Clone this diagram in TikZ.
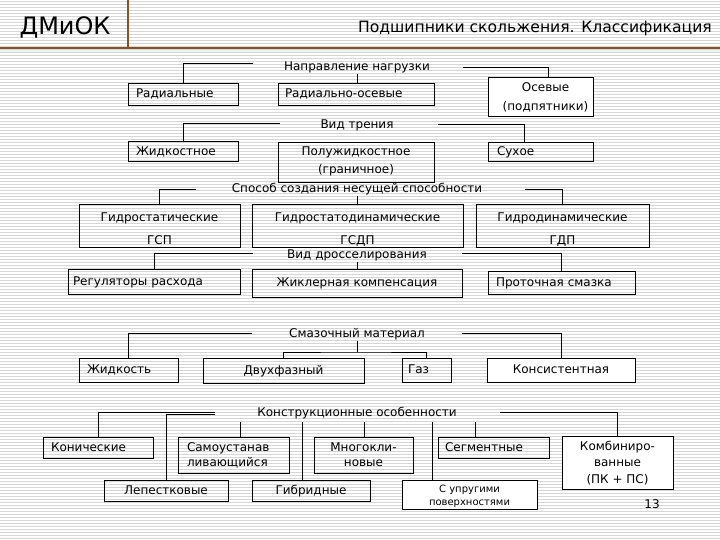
\documentclass[tikz,border=0pt]{standalone}
\usepackage{fontspec}
\setmainfont{DejaVu Sans}
\usetikzlibrary{calc}
\definecolor{hdrbrown}{RGB}{140,80,35}
\definecolor{stripe}{RGB}{214,214,214}
\definecolor{hdrcyan}{RGB}{225,248,250}
\newcommand{\sttop}[1]{\rule{0pt}{#1}}
\newcommand{\stbot}[1]{\rule[-#1]{0pt}{#1}}
\newcommand{\oneln}[1]{\sttop{10.5pt}\stbot{3.2pt}#1}
\tikzset{
 bx/.style={draw, line width=0.9pt, inner sep=0pt, font=\fontsize{12}{15}\selectfont, align=center},
 wbx/.style={bx, fill=white},
 lbl/.style={inner sep=1pt, font=\fontsize{12}{15}\selectfont},
 cn/.style={line width=0.9pt},
}
\begin{document}
\begin{tikzpicture}[x=1pt,y=-1pt]
\useasboundingbox (0,0) rectangle (720,540);
\fill[white] (0,0) rectangle (720,540);
\foreach \i in {0,...,179} \draw[stripe, line width=1pt] (0,{3*\i+1.5}) -- (720,{3*\i+1.5});
% header
\node[inner sep=0pt, font=\fontsize{24}{24}\selectfont] (logo) at (65,27) {ДМиОК};
\node[inner sep=0pt, anchor=east, font=\fontsize{15.6}{16}\selectfont] (title) at (712,28) {Подшипники скольжения. Классификация};
\draw[hdrcyan, line width=2pt] (0,51) -- (720,51);
\draw[hdrbrown, line width=2pt] (0,48) -- (720,48);
\draw[hdrbrown, line width=2pt] (128,0) -- (128,48);

% row 1
\node[lbl] (L1) at (357,67) {Направление нагрузки};
\node[bx, minimum width=110pt, minimum height=22pt, text width=94pt, align=left] (rad) at (183,94) {\oneln{Радиальные}};
\node[bx, minimum width=156pt, minimum height=22pt, text width=142pt, align=left] (radax) at (356,94) {\oneln{Радиально-осевые}};
\node[wbx, minimum width=105pt, minimum height=39pt, font=\fontsize{12}{19}\selectfont] (os) at (540.5,96.5) {\sttop{12pt}\hspace*{10pt}Осевые\\\hspace*{10pt}(подпятники)\stbot{3.5pt}};
\coordinate (a1) at (253,63);
\coordinate (a2) at (463,67);
\draw[cn] (a1) -| (rad.north);
\draw[cn] (L1.south) -- (L1.south |- radax.north);
\draw[cn] (a2) -| ([xshift=7.5pt]os.north);

% row 2
\node[lbl] (L2) at (357,125) {Вид трения};
\node[bx, minimum width=110pt, minimum height=20pt, text width=94pt, align=left] (jid) at (183,151.5) {\oneln{Жидкостное}};
\node[bx, minimum width=156pt, minimum height=40pt, font=\fontsize{12}{18}\selectfont] (polu) at (356,162) {\sttop{10pt}Полужидкостное\\(граничное)\stbot{5.5pt}};
\node[bx, minimum width=105pt, minimum height=19pt, text width=87pt, align=left] (suh) at (540.5,151.5) {\oneln{Сухое}};
\coordinate (b1) at (280,123);
\coordinate (b2) at (438,124);
\draw[cn] (b1) -| (jid.north);
\draw[cn] (b2) -| ([xshift=-16.5pt]suh.north);

% row 3
\node[lbl] (L3) at (357,189) {Способ создания несущей способности};
\node[bx, minimum width=161pt, minimum height=40pt, font=\fontsize{12}{23}\selectfont] (gs) at (159.5,226) {\sttop{17pt}Гидростатические\\ГСП\stbot{3.5pt}};
\node[bx, minimum width=211pt, minimum height=40pt, font=\fontsize{12}{23}\selectfont] (gsd) at (357.5,226) {\sttop{17pt}Гидростатодинамические\\ГСДП\stbot{3.5pt}};
\node[bx, minimum width=173pt, minimum height=40pt, font=\fontsize{12}{23}\selectfont] (gd) at (562.5,226) {\sttop{17pt}Гидродинамические\\ГДП\stbot{3.5pt}};
\coordinate (c1) at (196,189);
\coordinate (c2) at (525,189);
\draw[cn] (c1) -| (gs.north);
\draw[cn] (L3.south) -- (L3.south |- gsd.north);
\draw[cn] (c2) -| (gd.north);

% row 4
\node[lbl] (L4) at (357,255) {Вид дросселирования};
\node[bx, minimum width=172pt, minimum height=25pt, text width=162pt, align=left] (reg) at (154,281.5) {\oneln{Регуляторы расхода}};
\node[bx, minimum width=210pt, minimum height=28pt] (jik) at (357,283) {\oneln{Жиклерная компенсация}};
\node[bx, minimum width=147pt, minimum height=23pt, text width=131pt, align=left] (pro) at (561.5,282.5) {\oneln{Проточная смазка}};
\coordinate (d1) at (253,253);
\coordinate (d2) at (462,253);
\draw[cn] (d1) -| (reg.north);
\draw[cn] (L4.south) -- (L4.south |- jik.north);
\draw[cn] (d2) -| (pro.north);

% row 5
\node[lbl] (L5) at (357,334) {Смазочный материал};
\node[bx, minimum width=99pt, minimum height=24pt, text width=83pt, align=left] (zh) at (128.5,370) {\oneln{Жидкость}};
\node[bx, minimum width=161pt, minimum height=25pt] (dvu) at (283.5,370.5) {\oneln{Двухфазный}};
\node[bx, minimum width=49pt, minimum height=24pt, text width=37pt, align=left] (gaz) at (426.5,370) {\oneln{Газ}};
\node[wbx, minimum width=148pt, minimum height=24pt] (kons) at (561,370) {\oneln{Консистентная}};
\coordinate (e1) at (252,333);
\coordinate (e2) at (462,333);
\coordinate (e3) at (357,352);
\draw[cn] (e1) -| (zh.north);
\draw[cn] (e2) -| (kons.north);
\draw[cn] (L5.south) -- (e3);
\draw[cn] (dvu.north) |- (e3) -| (gaz.north);

% row 6
\node[lbl] (L6) at (357,413) {Конструкционные особенности};
\node[bx, minimum width=110pt, minimum height=21pt, text width=94pt, align=left] (kon) at (98,447.5) {\oneln{Конические}};
\node[bx, minimum width=111pt, minimum height=36pt, text width=93pt, align=left, font=\fontsize{12}{15}\selectfont] (sam) at (233.5,455) {\sttop{11pt}Самоустанав\\ливающийся\stbot{3.5pt}};
\node[bx, minimum width=99pt, minimum height=36pt, font=\fontsize{12}{15}\selectfont] (mno) at (363.5,455) {\sttop{11pt}Многокли-\\новые\stbot{3.5pt}};
\node[bx, minimum width=111pt, minimum height=21pt, text width=97pt, align=left] (seg) at (493.5,447.5) {\oneln{Сегментные}};
\node[wbx, minimum width=111pt, minimum height=53pt, font=\fontsize{12}{16.5}\selectfont] (komb) at (617.5,462.5) {\sttop{12pt}Комбиниро-\\ванные\\(ПК + ПС)\stbot{3.5pt}};
\node[bx, minimum width=124pt, minimum height=21pt] (lep) at (166,490.5) {\oneln{Лепестковые}};
\node[bx, minimum width=118pt, minimum height=21pt] (gib) at (311,490.5) {\oneln{Гибридные}};
\node[wbx, minimum width=135pt, minimum height=29pt, font=\fontsize{10}{13}\selectfont] (upr) at (469.5,494.5) {\sttop{12pt}С упругими\\поверхностями\stbot{2.6pt}};
\coordinate (f1) at (215,412);
\coordinate (f2) at (215,414);
\coordinate (f3) at (500,412);
\coordinate (s1) at (240,422);
\coordinate (s2) at (302,422);
\coordinate (s3) at (364,422);
\coordinate (s4) at (432,422);
\coordinate (s5) at (475,422);
\draw[cn] (f1) -| (kon.north);
\draw[cn] (f2) -| (lep.north);
\draw[cn] (f3) -| (komb.north);
\draw[cn] (s1) -- (s1 |- sam.north);
\draw[cn] (s2) -- (s2 |- gib.north);
\draw[cn] (s3) -- (s3 |- mno.north);
\draw[cn] (s4) -- (s4 |- upr.north);
\draw[cn] (s5) -- (s5 |- seg.north);

\node[lbl] (pg) at (652,504) {13};
\end{tikzpicture}
\end{document}
